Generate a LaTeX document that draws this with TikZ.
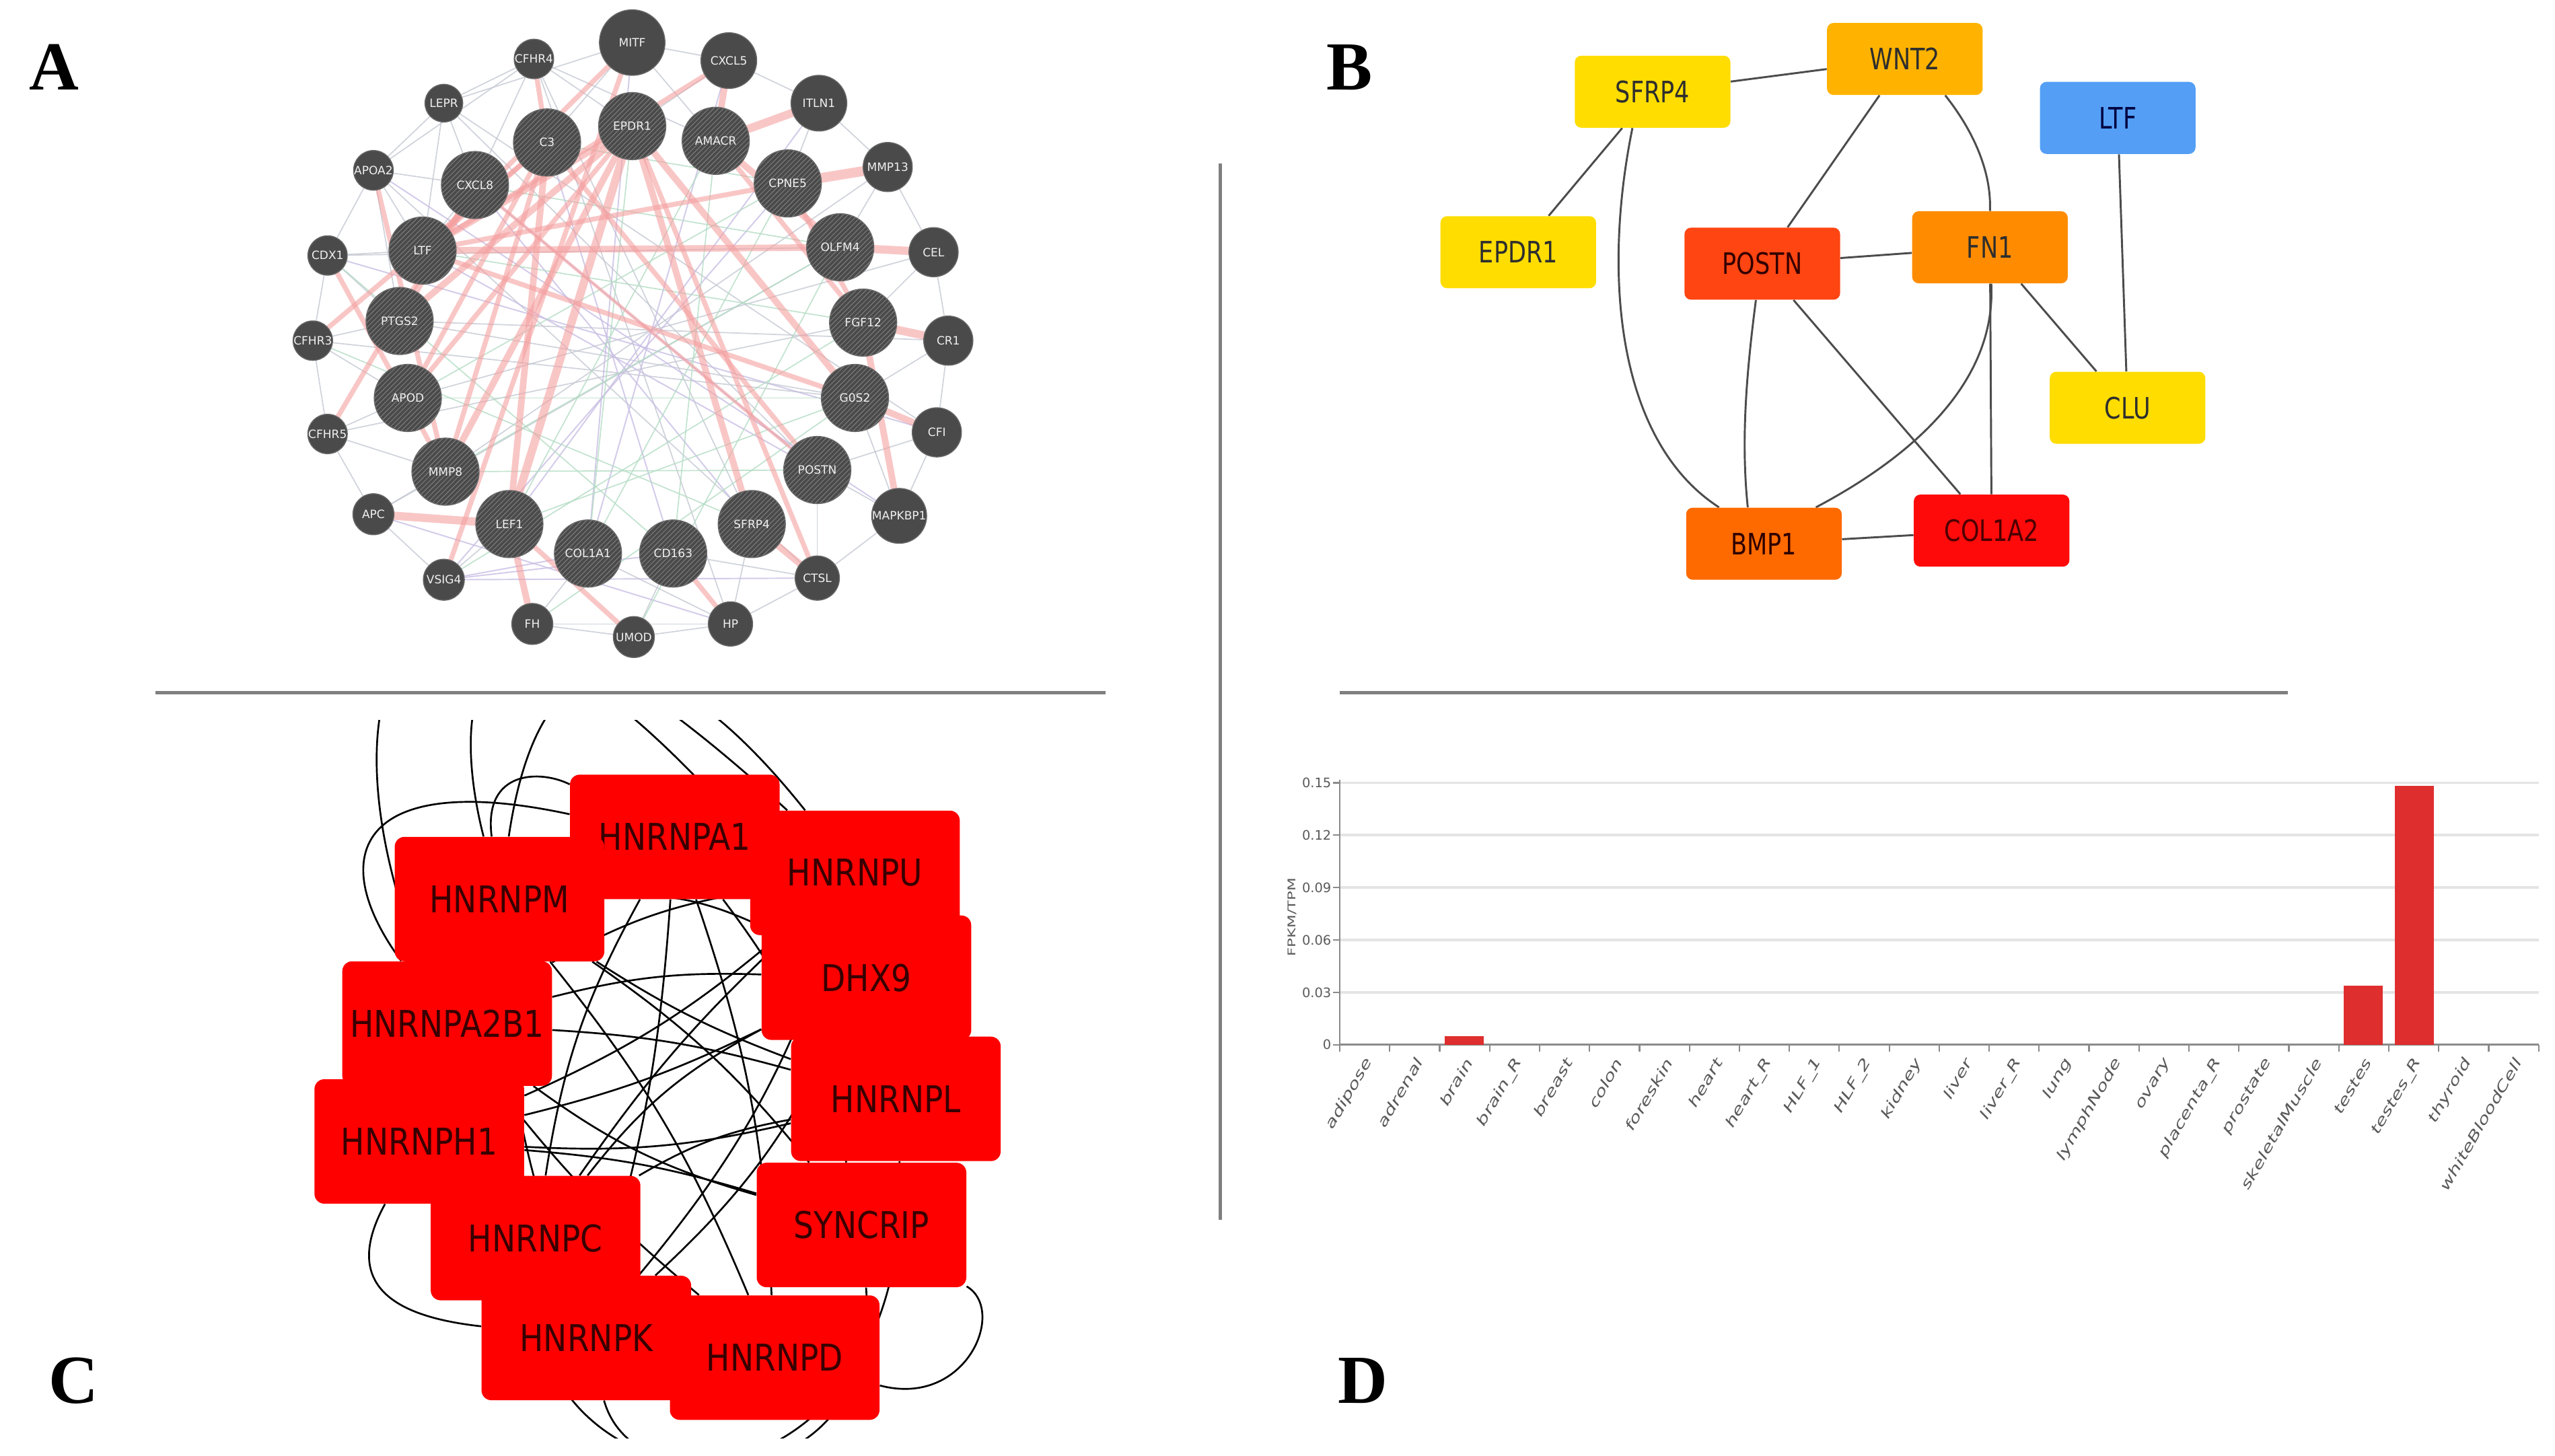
\documentclass[tikz,border=0pt]{standalone}
\usepackage{fontspec}
\setmainfont{Liberation Serif}
\newfontfamily\dejavu{DejaVu Sans}
\usetikzlibrary{patterns}
\pgfdeclarelayer{bg}
\pgfdeclarelayer{edges}
\pgfsetlayers{bg,edges,main}
\newcommand\bnarrow[1]{\scalebox{0.8}[1]{#1}}
\newcommand\cnarrow[1]{\scalebox{0.86}[1]{#1}}
\newcommand\dwide[1]{\scalebox{1.45}[1]{#1}}
\definecolor{nodegray}{HTML}{4A4A4A}
\definecolor{hatch}{HTML}{7E7E7E}
\definecolor{pinkedge}{HTML}{F5A0A0}
\definecolor{thinA}{HTML}{C4C8D2}
\definecolor{thinG}{HTML}{B3DCC4}
\definecolor{thinP}{HTML}{C9BEE4}
\definecolor{bYellow}{HTML}{FFDD00}
\definecolor{bGold}{HTML}{FFB300}
\definecolor{bOrange}{HTML}{FF8C00}
\definecolor{bDeep}{HTML}{FF6A00}
\definecolor{bPostn}{HTML}{FF4512}
\definecolor{bRed}{HTML}{FF0A0A}
\definecolor{bBlue}{HTML}{549FF5}
\definecolor{cRed}{HTML}{FF0000}
\definecolor{sepgray}{HTML}{7F7F7F}
\definecolor{barred}{HTML}{DF2E2E}
\definecolor{gridgray}{HTML}{E4E4E4}
\definecolor{axisgray}{HTML}{8A8A8A}
\definecolor{ticktext}{HTML}{5A5A5A}
\tikzset{
  plainA/.style={circle, fill=nodegray, draw=nodegray!85!white, line width=0.6pt, inner sep=0pt,
    text=white!88!gray, font=\dejavu\fontsize{7}{8}\selectfont},
  hatchA/.style={plainA, minimum size=41pt,
    postaction={pattern=north east lines, pattern color=hatch}},
  pinkA/.style={draw=pinkedge, opacity=0.6, line cap=round},
  thinGray/.style={draw=thinA, line width=0.7pt, opacity=0.8},
  thinGreen/.style={draw=thinG, line width=0.7pt, opacity=0.8},
  thinPurple/.style={draw=thinP, line width=0.8pt, opacity=0.8},
  bbox/.style={rounded corners=4pt, minimum width=95pt, minimum height=44pt, inner sep=0pt,
    font=\dejavu\fontsize{18}{20}\selectfont, text=black!82},
  bE/.style={draw=black!70, line width=1.2pt},
  cbox/.style={rounded corners=6pt, fill=cRed, minimum width=128pt, minimum height=76pt, inner sep=0pt,
    font=\dejavu\fontsize{22.5}{24}\selectfont, text=black!78!red},
  cE/.style={draw=black, line width=1.1pt},
  sepline/.style={draw=sepgray, line width=2.2pt},
  panelletter/.style={font=\bfseries\fontsize{42}{42}\selectfont, text=black},
  ticklab/.style={font=\dejavu\fontsize{8}{9}\selectfont, text=ticktext},
  catlab/.style={font=\dejavu\itshape\fontsize{8.5}{9}\selectfont, text=ticktext, rotate=60, anchor=east, inner sep=1pt}
}
\begin{document}
\begin{tikzpicture}[x=1pt, y=-1pt]
\useasboundingbox (0,0) rectangle (1560,889);
\begin{pgfonlayer}{bg}
\fill[white] (0,0) rectangle (1560,889);
\end{pgfonlayer}

% ---------------- panel letters and separators ----------------
\node[panelletter] (lA) at (33,41) {A};
\node[panelletter] (lB) at (824,41) {B};
\node[panelletter] (lC) at (45,843) {C};
\node[panelletter] (lD) at (832,843) {D};
\draw[sepline] (95,423) -- (675,423);
\draw[sepline] (745,100) -- (745,745);
\draw[sepline] (818,423) -- (1397,423);

% ---------------- panel A ----------------
\node[plainA, minimum size=40pt] (aMITF) at (386,26) {MITF};
\node[plainA, minimum size=23pt] (aCFHR4) at (326,36) {CFHR4};
\node[plainA, minimum size=34pt] (aCXCL5) at (445,37) {CXCL5};
\node[plainA, minimum size=23pt] (aLEPR) at (271,63) {LEPR};
\node[plainA, minimum size=34pt] (aITLN1) at (500,63) {ITLN1};
\node[hatchA] (aC3) at (334,87) {C3};
\node[hatchA] (aEPDR1) at (386,77) {EPDR1};
\node[hatchA] (aAMACR) at (437,86) {AMACR};
\node[plainA, minimum size=23pt] (aAPOA2) at (228,104) {APOA2};
\node[plainA, minimum size=30pt] (aMMP13) at (542,102) {MMP13};
\node[hatchA] (aCXCL8) at (290,113) {CXCL8};
\node[hatchA] (aCPNE5) at (481,112) {CPNE5};
\node[plainA, minimum size=24pt] (aCDX1) at (200,156) {CDX1};
\node[hatchA] (aLTF) at (258,153) {LTF};
\node[hatchA] (aOLFM4) at (513,151) {OLFM4};
\node[plainA, minimum size=30pt] (aCEL) at (570,154) {CEL};
\node[hatchA] (aPTGS2) at (244,196) {PTGS2};
\node[hatchA] (aFGF12) at (527,197) {FGF12};
\node[plainA, minimum size=24pt] (aCFHR3) at (191,208) {CFHR3};
\node[plainA, minimum size=30pt] (aCR1) at (579,208) {CR1};
\node[hatchA] (aAPOD) at (249,243) {APOD};
\node[hatchA] (aG0S2) at (522,243) {G0S2};
\node[plainA, minimum size=24pt] (aCFHR5) at (200,265) {CFHR5};
\node[plainA, minimum size=30pt] (aCFI) at (572,264) {CFI};
\node[hatchA] (aMMP8) at (272,288) {MMP8};
\node[hatchA] (aPOSTN) at (499,287) {POSTN};
\node[plainA, minimum size=25pt] (aAPC) at (228,314) {APC};
\node[plainA, minimum size=27pt] (aMAPKBP1) at (549,315) {MAPKBP1};
\node[hatchA] (aLEF1) at (311,320) {LEF1};
\node[hatchA] (aSFRP4) at (459,320) {SFRP4};
\node[hatchA] (aCOL1A1) at (359,338) {COL1A1};
\node[hatchA] (aCD163) at (411,338) {CD163};
\node[plainA, minimum size=25pt] (aVSIG4) at (271,354) {VSIG4};
\node[plainA, minimum size=27pt] (aCTSL) at (499,353) {CTSL};
\node[plainA, minimum size=25pt] (aFH) at (325,381) {FH};
\node[plainA, minimum size=27pt] (aHP) at (446,381) {HP};
\node[plainA, minimum size=25pt] (aUMOD) at (387,389) {UMOD};

\begin{pgfonlayer}{edges}
\foreach \a/\b in {aCFHR4/aLEPR, aCFHR4/aAPOA2, aCFHR4/aCXCL8, aCFHR4/aEPDR1, aCFHR4/aAMACR,
  aLEPR/aAPOA2, aLEPR/aLTF, aLEPR/aCXCL8, aLEPR/aMITF, aAPOA2/aLTF, aAPOA2/aCDX1, aAPOA2/aPTGS2,
  aAPOA2/aCXCL8, aCDX1/aLTF, aCDX1/aCFHR3, aCDX1/aPTGS2, aCFHR3/aCFHR5, aCFHR3/aAPOD, aCFHR3/aPTGS2,
  aCFHR5/aAPC, aCFHR5/aAPOD, aCFHR5/aMMP8, aAPC/aVSIG4, aAPC/aMMP8, aVSIG4/aLEF1, aFH/aUMOD,
  aFH/aHP, aFH/aCOL1A1, aUMOD/aHP, aUMOD/aCD163, aHP/aCTSL, aHP/aSFRP4, aHP/aCOL1A1, aCTSL/aMAPKBP1,
  aCTSL/aPOSTN, aCTSL/aCD163, aMAPKBP1/aCFI, aMAPKBP1/aG0S2, aMAPKBP1/aPOSTN, aCFI/aCR1, aCFI/aPOSTN,
  aCR1/aCEL, aCR1/aG0S2, aCEL/aMMP13, aCEL/aFGF12, aMMP13/aITLN1, aMMP13/aOLFM4, aITLN1/aCXCL5,
  aITLN1/aCPNE5, aCXCL5/aMITF, aCXCL5/aEPDR1, aMITF/aC3, aMITF/aAMACR, aCXCL8/aLTF,
  aAPOA2/aCTSL, aCFHR3/aG0S2, aLEPR/aPOSTN, aPTGS2/aCR1, aAPOD/aCEL, aMMP8/aMMP13, aCDX1/aOLFM4,
  aCFHR4/aSFRP4, aOLFM4/aAPC, aFGF12/aCFHR5, aG0S2/aPTGS2, aCFHR4/aHP, aLEPR/aCFI}
  \draw[thinGray] (\a) -- (\b);
\foreach \a/\b in {aVSIG4/aCOL1A1, aVSIG4/aCD163, aLTF/aPOSTN, aCXCL8/aSFRP4, aC3/aCD163,
  aCXCL5/aCOL1A1, aITLN1/aLEF1, aCPNE5/aVSIG4, aPOSTN/aCXCL8, aVSIG4/aCTSL, aAPC/aHP, aCDX1/aCFI,
  aMITF/aCOL1A1, aAPOA2/aMAPKBP1}
  \draw[thinPurple] (\a) -- (\b);
\foreach \a/\b in {aLTF/aFGF12, aAPOD/aG0S2, aMMP8/aPOSTN, aCXCL8/aOLFM4, aC3/aCPNE5, aEPDR1/aCOL1A1,
  aAMACR/aLEF1, aCPNE5/aAPOD, aOLFM4/aMMP8, aG0S2/aLEF1, aCD163/aAMACR, aCOL1A1/aCPNE5, aFH/aG0S2,
  aVSIG4/aFGF12, aCFHR3/aSFRP4, aCDX1/aCD163, aUMOD/aOLFM4}
  \draw[thinGreen] (\a) -- (\b);
\foreach \a/\b/\w in {aEPDR1/aLEF1/5, aC3/aLEF1/4, aMITF/aVSIG4/3, aEPDR1/aMMP8/4, aC3/aMMP8/3,
  aCXCL8/aPTGS2/4, aEPDR1/aPTGS2/4, aC3/aAPOD/3, aEPDR1/aSFRP4/4, aEPDR1/aCTSL/3, aC3/aPOSTN/3,
  aAMACR/aOLFM4/4, aAMACR/aFGF12/3, aEPDR1/aG0S2/4, aCPNE5/aFGF12/3, aLTF/aOLFM4/4, aLTF/aCPNE5/3,
  aCXCL5/aLTF/3, aCXCL5/aAMACR/4, aAMACR/aITLN1/5, aCPNE5/aMMP13/6, aOLFM4/aCEL/5, aFGF12/aCR1/5,
  aG0S2/aCFI/4, aFGF12/aMAPKBP1/4, aAPC/aLEF1/5, aLEF1/aFH/4, aLEF1/aUMOD/3, aCD163/aHP/3,
  aSFRP4/aCTSL/4, aCFHR3/aC3/3, aCFHR5/aCXCL8/3, aAPOA2/aMMP8/3, aCFHR4/aC3/3, aCDX1/aMMP8/3,
  aMITF/aLTF/3, aEPDR1/aLTF/4, aC3/aLTF/3, aEPDR1/aAPOD/3, aCXCL8/aPOSTN/2, aLTF/aG0S2/3}
  \draw[pinkA, line width=\w pt] (\a) -- (\b);
\end{pgfonlayer}

% ---------------- panel B ----------------
\node[bbox, fill=bYellow] (SFRP4) at (1009,56) {\bnarrow{SFRP4}};
\node[bbox, fill=bGold] (WNT2) at (1163,36) {\bnarrow{WNT2}};
\node[bbox, fill=bBlue, text=black!75!blue] (LTF) at (1293,72) {\bnarrow{LTF}};
\node[bbox, fill=bYellow] (EPDR1) at (927,154) {\bnarrow{EPDR1}};
\node[bbox, fill=bPostn, text=black!80!red] (POSTN) at (1076,161) {\bnarrow{POSTN}};
\node[bbox, fill=bOrange] (FN1) at (1215,151) {\bnarrow{FN1}};
\node[bbox, fill=bYellow] (CLU) at (1299,249) {\bnarrow{CLU}};
\node[bbox, fill=bDeep, text=black!82!red] (BMP1) at (1077,332) {\bnarrow{BMP1}};
\node[bbox, fill=bRed, text=black!70!red] (COL1A2) at (1216,324) {\bnarrow{COL1A2}};
\begin{pgfonlayer}{edges}
\draw[bE] (SFRP4) -- (WNT2);
\draw[bE] (SFRP4) -- (EPDR1);
\draw[bE] (WNT2) -- (POSTN);
\draw[bE] (POSTN) -- (FN1);
\draw[bE] (POSTN) -- (COL1A2);
\draw[bE] (FN1) -- (COL1A2);
\draw[bE] (FN1) -- (CLU);
\draw[bE] (LTF) -- (CLU);
\draw[bE] (BMP1) -- (COL1A2);
\draw[bE] (SFRP4.-119) .. controls (978,170) and (988,270) .. (BMP1.141);
\draw[bE] (WNT2.-42) .. controls (1205,80) and (1216,105) .. (FN1.north);
\draw[bE] (POSTN.-100) .. controls (1066,230) and (1063,270) .. (BMP1.114);
\draw[bE] (FN1.-88) .. controls (1219,235) and (1165,280) .. (BMP1.35);
\end{pgfonlayer}

% ---------------- panel C ----------------
\node[cbox] (HNRNPA1) at (412,511) {\cnarrow{HNRNPA1}};
\node[cbox] (HNRNPM) at (305,549) {\cnarrow{HNRNPM}};
\node[cbox] (HNRNPU) at (522,533) {\cnarrow{HNRNPU}};
\node[cbox] (DHX9) at (529,597) {\cnarrow{DHX9}};
\node[cbox] (HNRNPA2B1) at (273,625) {\cnarrow{HNRNPA2B1}};
\node[cbox] (HNRNPL) at (547,671) {\cnarrow{HNRNPL}};
\node[cbox] (HNRNPH1) at (256,697) {\cnarrow{HNRNPH1}};
\node[cbox] (SYNCRIP) at (526,748) {\cnarrow{SYNCRIP}};
\node[cbox] (HNRNPC) at (327,756) {\cnarrow{HNRNPC}};
\node[cbox] (HNRNPK) at (358,817) {\cnarrow{HNRNPK}};
\node[cbox] (HNRNPD) at (473,829) {\cnarrow{HNRNPD}};
\begin{pgfonlayer}{edges}
\begin{scope}
\clip (150,440) rectangle (625,878);
\draw[cE] (HNRNPM) to[bend left=8] (SYNCRIP);
\draw[cE] (HNRNPM) to[bend right=6] (HNRNPL);
\draw[cE] (HNRNPA1) to[bend right=10] (HNRNPC);
\draw[cE] (HNRNPA1) to[bend left=6] (HNRNPK);
\draw[cE] (HNRNPA1) to[bend left=8] (HNRNPD);
\draw[cE] (HNRNPA1) to[bend left=12] (SYNCRIP);
\draw[cE] (HNRNPU) to[bend left=8] (HNRNPH1);
\draw[cE] (HNRNPU) to[bend right=6] (HNRNPC);
\draw[cE] (HNRNPU) to[bend right=10] (HNRNPA2B1);
\draw[cE] (DHX9) to[bend left=6] (HNRNPH1);
\draw[cE] (DHX9) to[bend left=10] (HNRNPK);
\draw[cE] (DHX9) to[bend right=8] (HNRNPA2B1);
\draw[cE] (HNRNPL) to[bend right=6] (HNRNPA2B1);
\draw[cE] (HNRNPL) to[bend left=8] (HNRNPH1);
\draw[cE] (HNRNPL) to[bend right=10] (HNRNPC);
\draw[cE] (SYNCRIP) to[bend left=10] (HNRNPA2B1);
\draw[cE] (SYNCRIP) to[bend right=6] (HNRNPH1);
\draw[cE] (HNRNPD) to[bend right=8] (HNRNPM);
\draw[cE] (HNRNPD) to[bend left=6] (HNRNPA2B1);
\draw[cE] (HNRNPK) to[bend right=10] (HNRNPU);
\draw[cE] (HNRNPM) to[bend left=14] (DHX9);
\draw[cE] (HNRNPK) to[bend left=8] (HNRNPM);
\draw[cE] (HNRNPC) to[bend left=12] (DHX9);
\draw[cE] (HNRNPA2B1) .. controls (196,520) and (222,470) .. (HNRNPA1);
\draw[cE] (HNRNPM) .. controls (295,470) and (330,470) .. (HNRNPA1);
\draw[cE] (HNRNPA2B1) .. controls (200,450) and (215,250) .. (HNRNPU);
\draw[cE] (HNRNPM) .. controls (272,420) and (290,300) .. (DHX9);
\draw[cE] (HNRNPM) .. controls (330,380) and (400,380) .. (HNRNPU);
\draw[cE] (HNRNPH1) .. controls (205,790) and (250,805) .. (HNRNPK);
\draw[cE] (HNRNPC) .. controls (330,920) and (540,940) .. (SYNCRIP);
\draw[cE] (HNRNPK) .. controls (390,930) and (560,900) .. (HNRNPL);
\draw[cE] (SYNCRIP) .. controls (615,800) and (590,860) .. (HNRNPD);
\end{scope}
\end{pgfonlayer}

% ---------------- panel D ----------------
\foreach \v [count=\k] in {606,574,542,510,478}
  \draw[draw=gridgray, line width=1.6pt] (818,\v) -- (1550,\v);
\foreach \v/\t [count=\k] in {638/0,606/0.03,574/0.06,542/0.09,510/0.12,478/0.15} {
  \draw[draw=axisgray, line width=0.9pt] (814,\v) -- (818,\v);
  \node[ticklab, anchor=east, inner sep=1pt] (yt\k) at (814,\v) {\t};
}
\node[ticklab, font=\dejavu\fontsize{6.5}{7}\selectfont, rotate=90] (ytitle) at (789,560) {\dwide{FPKM/TPM}};
\draw[draw=axisgray, line width=1.1pt] (818,476) -- (818,641);
\draw[draw=axisgray, line width=1.3pt] (818,638) -- (1550,638);
\foreach \i in {0,...,24}
  \draw[draw=axisgray, line width=0.9pt] ({818+30.5*\i},638) -- ({818+30.5*\i},642);
\fill[barred] (882,632.7) rectangle (906,638);
\fill[barred] (1431,601.7) rectangle (1455,638);
\fill[barred] (1462,480) rectangle (1486,638);
\foreach \n [count=\i] in {adipose, adrenal, brain, brain\_R, breast, colon, foreskin, heart, heart\_R,
  HLF\_1, HLF\_2, kidney, liver, liver\_R, lung, lymphNode, ovary, placenta\_R, prostate,
  skeletalMuscle, testes, testes\_R, thyroid, whiteBloodCell}
  \node[catlab] (cat\i) at ({818+30.5*\i-12},646) {\dwide{\n}};
\end{tikzpicture}
\end{document}
